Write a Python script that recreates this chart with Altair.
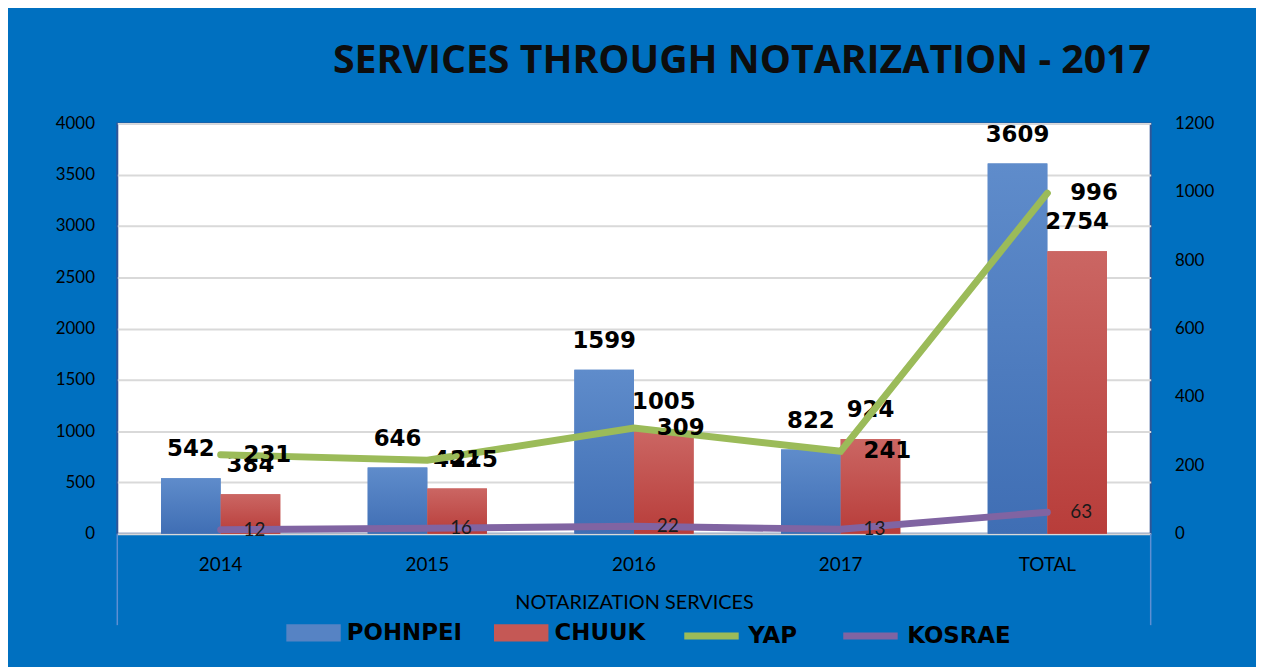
import altair as alt
import pandas as pd

categories = ["2014", "2015", "2016", "2017", "TOTAL"]
pohnpei = [542, 646, 1599, 822, 3609]
chuuk = [384, 442, 1005, 924, 2754]
yap = [231, 215, 309, 241, 996]
kosrae = [12, 16, 22, 13, 63]

bar_series = ["POHNPEI", "CHUUK"]
bar_colors = ["#5683C4", "#C55855"]
line_series = ["YAP", "KOSRAE"]
line_colors = ["#9BBB59", "#8064A2"]

bars_df = pd.DataFrame({
    "category": categories * 2,
    "series": ["POHNPEI"] * len(categories) + ["CHUUK"] * len(categories),
    "value": pohnpei + chuuk,
})
lines_df = pd.DataFrame({
    "category": categories * 2,
    "series": ["YAP"] * len(categories) + ["KOSRAE"] * len(categories),
    "value": yap + kosrae,
})

x_enc = alt.X(
    "category:N", sort=categories,
    scale=alt.Scale(paddingInner=0.423, paddingOuter=0.2115),
    axis=alt.Axis(title="NOTARIZATION SERVICES", labelAngle=0, ticks=False, domain=False,
                  labelPadding=22, titlePadding=18, labelFont="Lato", labelFontSize=19,
                  titleFont="Lato", titleFontSize=20, titleFontWeight="normal",
                  labelColor="#000000", titleColor="#000000"),
)
xoff = alt.XOffset("series:N", scale=alt.Scale(domain=bar_series, paddingInner=0, paddingOuter=0))

y_left = alt.Y(
    "value:Q", scale=alt.Scale(domain=[0, 4000], nice=False),
    axis=alt.Axis(values=list(range(0, 4001, 500)), format="d", title=None, orient="left",
                  ticks=False, domain=False, grid=True, gridColor="#D9D9D9", gridWidth=2,
                  labelPadding=23, labelFont="Lato", labelFontSize=17, labelColor="#000000",
                  labelFlush=False, labelOverlap=False),
)
y_right = alt.Y(
    "value:Q", scale=alt.Scale(domain=[0, 1200], nice=False),
    axis=alt.Axis(values=list(range(0, 1201, 200)), format="d", title=None, orient="right",
                  ticks=False, domain=False, grid=False, labelPadding=24,
                  labelFont="Lato", labelFontSize=17, labelColor="#000000",
                  labelFlush=False, labelOverlap=False),
)

legend_common = dict(
    title=None, orient="none", legendY=485, direction="horizontal", symbolSize=3000,
    labelFont="DejaVu Sans", labelFontWeight="bold", labelFontSize=23, labelColor="#000000",
    labelOffset=6, columnPadding=31, symbolOpacity=1,
)
fill_enc = alt.Fill("series:N", scale=alt.Scale(domain=bar_series, range=bar_colors),
                    legend=alt.Legend(legendX=170, symbolType="M-1,-0.32H1V0.32H-1Z",
                                      symbolStrokeWidth=0, **legend_common))
stroke_enc = alt.Stroke("series:N", scale=alt.Scale(domain=line_series, range=line_colors),
                        legend=alt.Legend(legendX=567, symbolType="stroke",
                                          symbolStrokeWidth=7, **legend_common))

grad_blue = alt.LinearGradient(
    gradient="linear", x1=0, x2=0, y1=0, y2=1,
    stops=[alt.GradientStop(offset=0, color="#5F8CCB"), alt.GradientStop(offset=1, color="#3F6EB4")])
grad_red = alt.LinearGradient(
    gradient="linear", x1=0, x2=0, y1=0, y2=1,
    stops=[alt.GradientStop(offset=0, color="#CB6663"), alt.GradientStop(offset=1, color="#B83D3A")])

label_font = dict(font="DejaVu Sans", fontWeight="bold", fontSize=23, color="#000000")

base_bars = alt.Chart(bars_df)
bars_solid = base_bars.mark_bar().encode(x=x_enc, xOffset=xoff, y=y_left, fill=fill_enc)
bars_p = base_bars.transform_filter("datum.series === 'POHNPEI'").mark_bar(color=grad_blue).encode(
    x=x_enc, xOffset=xoff, y=y_left)
bars_c = base_bars.transform_filter("datum.series === 'CHUUK'").mark_bar(color=grad_red).encode(
    x=x_enc, xOffset=xoff, y=y_left)
bar_labels = base_bars.mark_text(baseline="bottom", dy=-17, **label_font).encode(
    x=x_enc, xOffset=xoff, y=y_left, text="value:Q")

deco = alt.Chart(pd.DataFrame({"k": [0]})).mark_rule(color="#5E8FD3", strokeWidth=1.5).encode(
    x=alt.value(0), y=alt.value(413), y2=alt.value(505))
deco2 = alt.Chart(pd.DataFrame({"k": [0]})).mark_rule(color="#5E8FD3", strokeWidth=1.5).encode(
    x=alt.value(1040), y=alt.value(413), y2=alt.value(505))

left = alt.layer(bars_solid, bars_p, bars_c, bar_labels, deco, deco2)

base_lines = alt.Chart(lines_df)
lines = base_lines.mark_line(strokeWidth=7, strokeCap="round").encode(
    x=x_enc, y=y_right, stroke=stroke_enc)
yap_labels = base_lines.transform_filter("datum.series === 'YAP'").mark_text(
    align="left", baseline="middle", dx=23, **label_font).encode(
    x=x_enc, y=y_right, text="value:Q")
kos_labels = base_lines.transform_filter("datum.series === 'KOSRAE'").mark_text(
    font="Lato", fontSize=19, align="left", baseline="middle", dx=23, color="#1A1A1A").encode(
    x=x_enc, y=y_right, text="value:Q")
right = alt.layer(lines, yap_labels, kos_labels)

chart = alt.layer(left, right).resolve_scale(y="independent").properties(
    width=1040, height=413,
    padding={"left": 110, "top": 114, "right": 106, "bottom": 132},
    autosize=alt.AutoSizeParams(type="none"),
    title=alt.TitleParams(text="SERVICES THROUGH NOTARIZATION - 2017", font="Open Sans",
                          fontSize=39.5, fontWeight="bold", color="#0D0D0D", anchor="start",
                          frame="group", dx=217, offset=33),
).configure(background="#0070C0").configure_view(fill="white", stroke="#2F5597", strokeWidth=2)

chart.save("out.html", embed_options={"renderer": "svg", "actions": False})
